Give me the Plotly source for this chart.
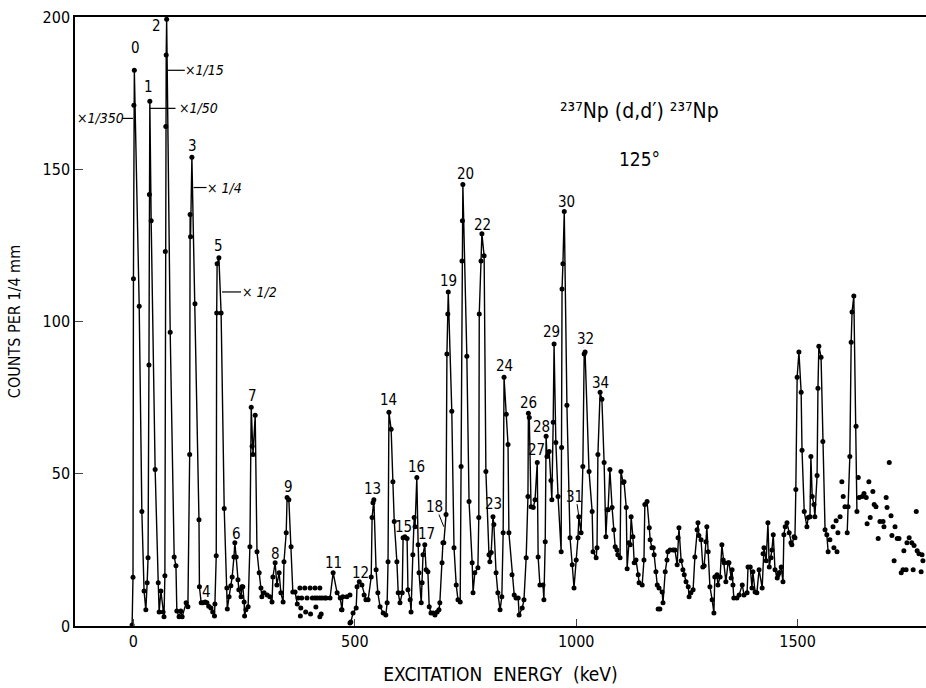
import plotly.graph_objects as go

# ---- data: excitation energy (keV), counts per 1/4 mm ----
seg_low = [(-3,0.3),(-1,16),(0,114),(1,171),(2,182.5),(13,105),(19,37.6),(24,11.5),(28,5.3),
  (31,14.2),(33,22.4),(35,85.7),(36,141.7),(37,172.3),(40,133.1),(49,51.4),(56,14.2),(58,4.6),(62,11.5),
  (67,4.6),(69,3.0),(71,16.5),(72,123),(73,164),(74,187.5),(75,199.3),(83,96.5),(92,22.7),(96,19.8),
  (98,4.9),(103,3.0),(107,4.9),(110,3.0),(119,7.6),(123,6.3),(127,56.3),(128,135.1),(129,127.8),
  (132,153.9),(139,105.8),(148,34.9),(149,12.9),(153,7.6),(157,7.6),(162,7.9),(166,7.6),(170,6.5),
  (175,5.9),(179,4.6),(183,3.3),(184,7.2),(187,23.1),(188,102.8),(189,119),(193,120.9),(198,102.8),
  (205,38.6),(211,12.5),(212,5.6),(216,9.6),(220,13.2),(223,16.1),(227,22.7),(229,27.3),(232,22.7),
  (236,15.2),(238,11.9),(243,9.6),(245,12.9),(247,12.9),(250,7.9),(251,3.3),(254,5.3),(259,6.3),
  (263,26.0),(266,71.8),(268,59.0),(270,56.3),(275,69.2),(279,24.4),(284,17.5),(288,12.5),(290,9.6),
  (295,10.9),(302,10.2),(308,9.6),(313,7.9),(315,16.1),(320,20.8),(324,13.5),(329,17.5),(333,10.9),
  (338,7.9),(340,21.1),(345,30.6),(347,42.2),(351,41.5),(356,26.0),(360,11.2),(365,11.2),(370,7.2)]

seg_11 = [(410,9.2),(421,9.2),(432,9.2),(444,9.2),(451,17.5),(460,10.9),(467,9.2),(471,5.3),
  (473,9.6),(482,9.6),(489,10.2)]

seg_mid = [(489,1.0),(491,1.3),(496,4.3),(503,5.9),(505,12.9),(510,14.5),(516,13.5),(521,10.2),(525,8.6),
  (530,8.6),(537,16.1),(539,35.6),(541,40.5),(543,41.5),(548,18.5),(552,10.9),(557,6.3),(564,4.3),
  (570,3.6),(573,7.6),(575,21.1),(577,70.2),(582,64.6),(586,47.4),(589,34.3),(595,21.1),(598,10.9),
  (602,7.6),(607,10.9),(609,29.0),(613,29.3),(618,28.7),(620,11.9),(625,8.6),(627,4.6),(631,23.4),
  (634,35.6),(636,32.6),(640,48.8),(643,26.7),(645,17.5),(650,7.6),(652,14.2),(654,23.4),(658,26.7),
  (661,18.5),(665,17.8),(668,6.3),(672,4.3),(677,4.3),(681,3.6),(686,4.6),(690,5.3),(692,7.6),
  (697,20.8),(699,27.3),(701,27.3),(706,36.6),(708,89.3),(710,102.5),(711,109.7),(719,70.5),(724,25.7),
  (729,13.5),(733,8.6),(738,7.9),(740,52.4),(742,119.9),(743,133.1),(744,145.0),(753,88.6),(758,40.9),
  (765,20.8),(767,10.9),(771,17.5),(778,19.1),(780,35.6),(781,102.5),(785,119.9),(787,128.8),
  (792,121.6),(796,50.7),(803,23.4),(805,21.1),(808,24.1),(812,35.9),(814,33.3),(819,17.5),(823,10.9),
  (828,5.3),(832,9.6),(835,30.6),(837,81.7),(842,69.5),(846,59.6),(848,30.6),(855,16.8),(860,10.2),
  (864,9.2),(869,9.2),(871,3.6),(878,5.9),(882,8.6),(887,22.4),(891,42.5),(892,69.9),(894,68.5),
  (898,39.2),(903,38.9),(907,41.5),(912,53.7),(914,22.7),(918,13.5),(925,13.5),(927,8.6),(930,27.7),
  (932,62.3),(934,55.7),(939,57.3),(943,47.8),(945,41.5),(948,66.9),(950,92.6),(954,60.3),(959,42.5),
  (966,24.4),(967,58.6),(968,110.7),(970,119.0),(973,136.1),(979,72.5),(986,29.0),(991,20.1),
  (995,12.5),(1000,21.7),(1004,29.0),(1006,35.9),(1011,30.6),(1015,52.4),(1018,89.3),(1020,90.0),
  (1029,50.7),(1036,37.6),(1038,24.4),(1045,22.4),(1047,25.7),(1049,56.3),(1054,76.8),(1058,74.5),
  (1063,53.7),(1067,29.3),(1070,38.2),(1072,38.2),(1076,51.4),(1081,38.9),(1085,31.6),(1088,26.0),
  (1092,25.0),(1094,23.4),(1099,22.4),(1101,50.7),(1106,47.1),(1108,47.4),(1113,38.9),(1115,18.8),
  (1119,27.3),(1122,26.7),(1124,35.9),(1128,29.3),(1131,20.8),(1135,21.7),(1140,16.8),(1142,14.2),
  (1149,13.5),(1153,21.7),(1155,39.9),(1160,40.9),(1165,32.3),(1167,28.3),(1171,25.7),(1174,25.7),
  (1176,23.4),(1180,17.8),(1183,13.5),(1187,12.5),(1194,11.2),(1196,7.6),(1201,17.8),(1205,21.7),
  (1207,24.4),(1212,25.0),(1219,25.0),(1223,25.0),(1228,20.1),(1230,29.0),(1232,32.3),(1237,21.4),
  (1241,18.5),(1244,16.8),(1248,14.5),(1253,12.9),(1255,9.6),(1259,10.9),(1264,11.9),(1268,22.7),
  (1273,31.6),(1275,33.9),(1277,29.7),(1282,28.3),(1286,19.4),(1289,19.8),(1293,27.7),(1295,32.6),
  (1298,24.4),(1302,12.9),(1307,8.6),(1311,4.3),(1313,16.1),(1318,16.8),(1320,13.5),(1325,16.1),
  (1329,26.7),(1332,21.7),(1334,20.8),(1338,14.5),(1343,20.8),(1345,20.8),(1350,15.8),(1352,18.5),
  (1354,13.5),(1356,9.2),(1363,9.2),(1368,10.2),(1375,13.5),(1379,10.2),(1386,10.9),(1388,19.4),
  (1393,19.4),(1397,12.5),(1399,17.8),(1404,11.2),(1408,10.9),(1413,18.5),(1420,12.5),(1422,23.7),
  (1424,25.7),(1429,21.4),(1433,33.9),(1436,19.4),(1440,22.4),(1442,25.0),(1445,30.0),(1449,18.5),
  (1454,15.8),(1456,16.8),(1458,17.5),(1463,19.4),(1467,14.5),(1469,30.0),(1472,32.6),(1476,33.9),
  (1481,30.6),(1485,27.3),(1487,26.7),(1492,29.3),(1494,29.0),(1496,44.8),(1499,81.7),(1503,90.0),
  (1508,76.8),(1510,57.7),(1515,37.6),(1521,32.6),(1524,35.6),(1528,35.9),(1530,55.7),(1533,42.5),
  (1537,39.9),(1539,35.9),(1544,49.4),(1546,78.1),(1548,91.9),(1553,88.3),(1557,60.6),(1562,31.6),
  (1566,30.0),(1569,24.4)]

seg_high = [(1612,30.6),(1614,39.2),(1618,55.7),(1621,93.2),(1623,103.1),(1627,108.4),(1632,65.6),(1634,37.6)]

dots_low = [(372,9.2),(376,12.5),(378,5.9),(380,9.2),(387,12.5),(389,4.6),(392,9.2),(399,12.5),
  (400,3.9),(404,9.2),(410,12.5),(412,6.2),(415,9.2),(421,12.5),(424,3.9),(426,9.2),(435,9.2),
  (377,3.3),(421,3.0),(470,5.3),(1185,5.6),(1189,5.6)]

dots_high = [(1573,28.3),(1580,32.6),(1582,25.7),(1587,34.6),(1589,24.4),(1591,30.6),(1596,35.9),
  (1600,47.4),(1603,42.5),(1607,39.2),(1637,48.8),(1639,42.2),(1646,42.5),(1650,43.5),(1655,42.2),
  (1657,33.6),(1661,47.4),(1664,35.6),(1670,44.2),(1673,39.9),(1677,39.2),(1682,28.7),(1686,34.3),
  (1693,34.3),(1695,32.6),(1700,42.2),(1702,38.9),(1707,53.7),(1711,36.2),(1713,29.7),(1718,21.4),
  (1720,32.6),(1725,28.7),(1729,28.7),(1734,17.5),(1738,18.5),(1740,24.7),(1745,18.5),(1747,27.3),
  (1752,29.0),(1758,27.3),(1761,18.5),(1763,26.4),(1768,37.6),(1770,24.7),(1774,23.7),(1779,17.8),
  (1781,23.4),(1783,21.4)]

# peak labels: (text, energy, counts)
peak_labels = [("0",4,189.8),("1",33,176.9),("2",53,197),("3",134,157.8),("4",166,11.2),("5",193,124.9),
  ("6",232,30.3),("7",268,75.5),("8",320,23.7),("9",351,45.5),("11",451,20.8),("12",512,17.5),
  ("13",541,45.1),("14",575,74.1),("15",609,32.6),("16",640,52.1),("17",661,30.3),("18",681,39.2),
  ("19",711,113.3),("20",749,148.3),("22",789,131.8),("23",814,40.2),("24",837,85.3),("26",893,73.1),
  ("27",911,57.7),("28",922,65.2),("29",945,96.5),("30",977,139.4),("31",997,42.5),("32",1022,94.2),
  ("34",1054,79.7)]

# scale factors: (text, text energy, counts, leader from energy, leader to energy)
scale_labels = [("×1/350",-75,166.7,-26,-1),("×1/50",146,170,36,95),("×1/15",161,182.5,77,116),
  ("× 1/4",205,144,136,165),("× 1/2",284,109.7,200,243)]

x_ticks = [0, 500, 1000, 1500]
y_ticks = [0, 50, 100, 150, 200]

FONT = "DejaVu Sans Condensed, Liberation Sans Narrow, Arial Narrow, sans-serif"

def unzip(p):
    return [a for a, b in p], [b for a, b in p]

fig = go.Figure()
for seg in (seg_low, seg_11, seg_mid, seg_high):
    x, y = unzip(seg)
    fig.add_trace(go.Scatter(x=x, y=y, mode="lines+markers",
        line=dict(color="black", width=1.4),
        marker=dict(color="black", size=5), cliponaxis=False, showlegend=False))
for d in (dots_low, dots_high):
    x, y = unzip(d)
    fig.add_trace(go.Scatter(x=x, y=y, mode="markers",
        marker=dict(color="black", size=5), cliponaxis=False, showlegend=False))

anns = []
for t, e, c in peak_labels:
    anns.append(dict(x=e, y=c, text=t, showarrow=False, font=dict(size=15, family=FONT, color="black")))
shapes = []
for t, e, c, l0, l1 in scale_labels:
    anns.append(dict(x=e, y=c, text="<i>" + t + "</i>", showarrow=False,
                     font=dict(size=14, family=FONT, color="black")))
    shapes.append(dict(type="line", x0=l0, x1=l1, y0=c, y1=c, line=dict(color="black", width=1.2)))
# leaders for 18 and 31
shapes.append(dict(type="line", x0=690, x1=701, y0=36.6, y1=32.6, line=dict(color="black", width=1)))
shapes.append(dict(type="line", x0=1002, x1=1006, y0=40.0, y1=35.9, line=dict(color="black", width=1)))

anns.append(dict(x=1144, y=169, text="²³⁷Np (d,d′) ²³⁷Np", showarrow=False,
                 font=dict(size=21, family=FONT, color="black")))
anns.append(dict(x=1142, y=153.5, text="125°", showarrow=False,
                 font=dict(size=19, family=FONT, color="black")))

fig.update_layout(
    width=926, height=688,
    margin=dict(l=75, r=0, t=17, b=62),
    paper_bgcolor="white", plot_bgcolor="white",
    annotations=anns, shapes=shapes,
    font=dict(family=FONT, color="black"),
    xaxis=dict(range=[-132, 1790], tickvals=x_ticks, ticks="inside", ticklen=7, tickwidth=1.3,
               showline=True, linecolor="black", linewidth=1.5, mirror=True, showgrid=False,
               zeroline=False, tickfont=dict(size=16, family=FONT),
               title=dict(text="EXCITATION  ENERGY  (keV)", font=dict(size=19, family=FONT), standoff=18)),
    yaxis=dict(range=[0, 200], tickvals=y_ticks, ticks="inside", ticklen=8, tickwidth=1.3,
               showline=True, linecolor="black", linewidth=1.5, showgrid=False, zeroline=False,
               tickfont=dict(size=16, family=FONT),
               title=dict(text="COUNTS PER 1/4 mm", font=dict(size=16, family=FONT), standoff=18)),
)
fig.write_html("out.html")
